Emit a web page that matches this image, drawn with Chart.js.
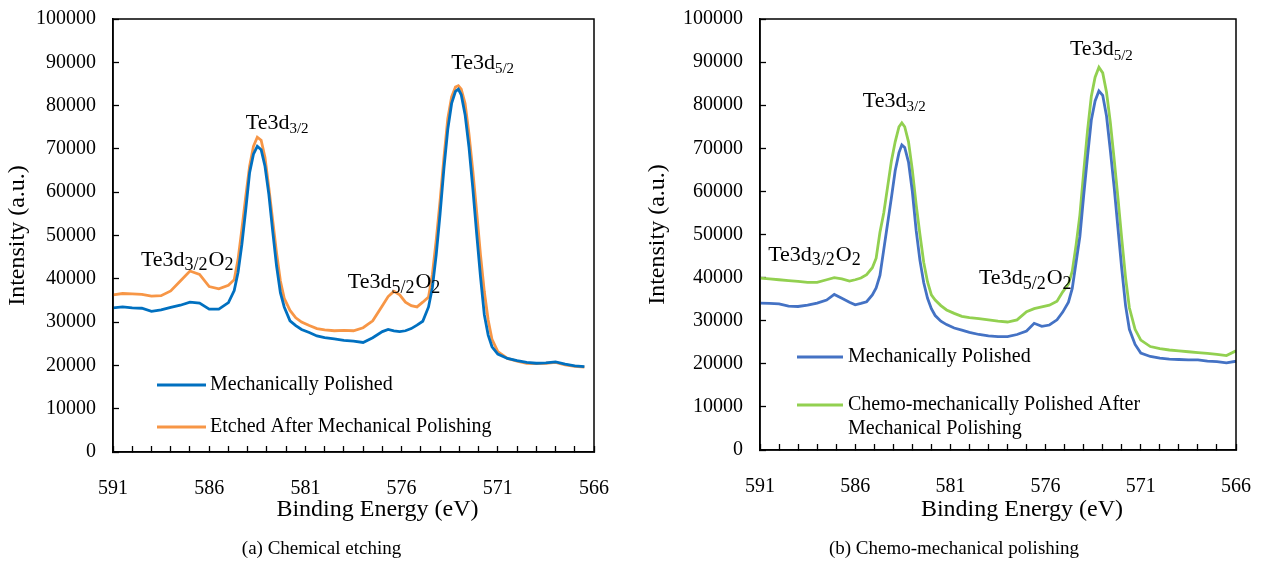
<!DOCTYPE html>
<html>
<head>
<meta charset="utf-8">
<script src="https://cdn.jsdelivr.net/npm/chart.js@4.4.1/dist/chart.umd.min.js"></script>
<style>
  html, body { margin: 0; padding: 0; background: #fff; }
  #wrap { position: relative; width: 1282px; height: 564px; }
  .panel { position: absolute; top: 0; }
</style>
</head>
<body>
<div id="wrap">
  <div class="panel" style="left:0"><canvas id="chart-a" width="640" height="564"></canvas></div>
  <div class="panel" style="left:640px"><canvas id="chart-b" width="642" height="564"></canvas></div>
</div>
<script>
// ---- (a) chemical etching ----
const energyA = [591.0, 590.5, 590.0, 589.5, 589.0, 588.5, 588.0, 587.5, 587.0, 586.5, 586.0, 585.5, 585.0, 584.7, 584.5, 584.3, 584.1, 583.9, 583.7, 583.5, 583.3, 583.1, 582.9, 582.7, 582.5, 582.3, 582.1, 581.8, 581.5, 581.2, 580.8, 580.4, 580.0, 579.5, 579.0, 578.5, 578.0, 577.5, 577.0, 576.7, 576.4, 576.1, 575.8, 575.5, 575.2, 574.9, 574.6, 574.4, 574.2, 574.0, 573.8, 573.6, 573.4, 573.2, 573.05, 572.9, 572.7, 572.5, 572.3, 572.1, 571.9, 571.7, 571.5, 571.3, 571.0, 570.5, 570.0, 569.5, 569.0, 568.5, 568.0, 567.5, 567.0, 566.5];
const polishedA = [33300, 33500, 33300, 33200, 32500, 32800, 33400, 33900, 34600, 34400, 33000, 33000, 34500, 37300, 41500, 48000, 56000, 64500, 68800, 70600, 69800, 66000, 59500, 51000, 43000, 36800, 33500, 30300, 29200, 28300, 27600, 26800, 26400, 26100, 25800, 25600, 25300, 26400, 27800, 28300, 28000, 27800, 28000, 28500, 29300, 30200, 33500, 38000, 45600, 55000, 65500, 74500, 80500, 83300, 83800, 82500, 77900, 70500, 61000, 50500, 40500, 31700, 27000, 24300, 22600, 21600, 21100, 20700, 20500, 20600, 20800, 20300, 19900, 19700];
const etchedA = [36300, 36600, 36500, 36400, 36000, 36100, 37200, 39500, 41800, 41000, 38200, 37700, 38500, 39800, 44500, 51500, 59000, 66000, 70600, 72700, 72000, 68000, 61000, 53500, 46000, 39500, 35500, 32700, 31000, 30000, 29200, 28500, 28200, 28000, 28100, 28000, 28700, 30300, 33800, 35900, 37100, 36300, 34600, 33800, 33500, 34600, 35800, 41000, 49000, 58000, 68000, 77000, 82000, 84300, 84600, 83800, 80500, 73500, 65000, 55500, 45500, 37000, 30500, 26000, 23200, 21600, 21000, 20500, 20400, 20500, 20700, 20100, 19800, 19600];

// ---- (b) chemo-mechanical polishing ----
const energyB = [591.0, 590.5, 590.0, 589.5, 589.0, 588.5, 588.0, 587.5, 587.1, 586.7, 586.3, 586.0, 585.7, 585.4, 585.1, 584.9, 584.7, 584.5, 584.3, 584.1, 583.9, 583.7, 583.55, 583.4, 583.2, 583.0, 582.8, 582.6, 582.4, 582.2, 582.0, 581.8, 581.5, 581.2, 580.8, 580.4, 580.0, 579.5, 579.0, 578.5, 578.0, 577.5, 577.0, 576.6, 576.2, 575.8, 575.4, 575.1, 574.8, 574.6, 574.4, 574.2, 574.0, 573.8, 573.6, 573.4, 573.2, 573.0, 572.8, 572.6, 572.4, 572.2, 572.0, 571.8, 571.6, 571.3, 571.0, 570.5, 570.0, 569.5, 569.0, 568.5, 568.0, 567.5, 567.0, 566.5, 566.0];
const polishedB = [34100, 34000, 33900, 33400, 33300, 33600, 34100, 34800, 36100, 35200, 34300, 33700, 34000, 34400, 36000, 37600, 40500, 46500, 52500, 58500, 64800, 69000, 70800, 70200, 66800, 60000, 51000, 44000, 38800, 35200, 32800, 31200, 29900, 29100, 28300, 27800, 27300, 26800, 26500, 26300, 26300, 26800, 27600, 29400, 28700, 29000, 30200, 32000, 34300, 37500, 43500, 49500, 59000, 68000, 76500, 81000, 83300, 82300, 77500, 69500, 61000, 51500, 42000, 33500, 28000, 24500, 22500, 21700, 21300, 21100, 21000, 20900, 20900, 20600, 20500, 20200, 20600];
const cmpB = [39900, 39700, 39500, 39300, 39100, 38900, 38900, 39500, 40000, 39700, 39200, 39500, 39900, 40700, 42300, 44500, 50500, 55000, 61000, 67000, 71500, 75000, 75900, 75000, 71500, 65000, 57000, 50000, 43500, 39000, 36000, 34800, 33500, 32500, 31700, 31000, 30700, 30500, 30200, 29900, 29700, 30200, 32100, 32800, 33200, 33600, 34500, 36700, 38500, 41500, 47500, 54500, 64500, 74000, 82000, 86500, 88800, 87500, 83000, 76000, 67500, 58500, 49000, 40000, 33000, 28000, 25500, 24000, 23500, 23200, 23000, 22800, 22600, 22400, 22200, 21900, 23000];

// axis ranges
const energyMin = 566, energyMax = 591;
const intensityMax = 100000, intensityStep = 10000;

// peak labels: [text, subscript, text, subscript ...] at [energy, intensity]
const peakTextA = [['Te3d', '3/2', 'O', '2'], ['Te3d', '3/2'], ['Te3d', '5/2', 'O', '2'], ['Te3d', '5/2']];
const peakAtA = [[589.55, 44400], [584.1, 76000], [578.8, 39300], [573.42, 89900]];
const peakTextB = [['Te3d', '3/2', 'O', '2'], ['Te3d', '3/2'], ['Te3d', '5/2', 'O', '2'], ['Te3d', '5/2']];
const peakAtB = [[590.57, 45300], [585.6, 80900], [579.5, 39900], [574.72, 92900]];

const SERIF = '"Liberation Serif", "Times New Roman", serif';

function pts(xs, ys) {
    return xs.map((x, i) => ({ x: x, y: ys[i] }));
}

function wrapText(ctx, text, maxWidth) {
    const words = text.split(' ');
    const lines = [];
    let line = '';
    words.forEach(w => {
        const test = line ? line + ' ' + w : w;
        if (line && ctx.measureText(test).width > maxWidth) {
            lines.push(line);
            line = w;
        } else {
            line = test;
        }
    });
    if (line) lines.push(line);
    return lines;
}

// frame, peak labels, legend, x title and caption
const decorations = {
    id: 'decorations',
    afterDraw(chart, args, opts) {
        const { ctx, chartArea: a, scales } = chart;
        ctx.save();
        ctx.strokeStyle = '#000';
        ctx.lineWidth = 1.5;
        ctx.strokeRect(a.left, a.top, a.right - a.left, a.bottom - a.top);

        ctx.fillStyle = '#000';
        ctx.textAlign = 'left';
        ctx.textBaseline = 'middle';
        opts.peakText.forEach((parts, k) => {
            let x = scales.x.getPixelForValue(opts.peakAt[k][0]);
            const y = scales.y.getPixelForValue(opts.peakAt[k][1]);
            const subSize = parts.length > 2 ? 18 : 15;
            parts.forEach((txt, j) => {
                const sub = j % 2 === 1;
                ctx.font = (sub ? subSize : 22) + 'px ' + SERIF;
                ctx.fillText(txt, x, sub ? y + 6 : y);
                x += ctx.measureText(txt).width + (sub && parts.length > 2 ? 1 : 0);
            });
        });

        const lg = opts.legend;
        chart.data.datasets.forEach((ds, i) => {
            const y = a.top + lg.rows[i];
            ctx.strokeStyle = ds.borderColor;
            ctx.lineWidth = 3;
            ctx.beginPath();
            ctx.moveTo(a.left + lg.x0, y);
            ctx.lineTo(a.left + lg.x1, y);
            ctx.stroke();
            ctx.font = '20px ' + SERIF;
            ctx.fillStyle = '#000';
            wrapText(ctx, ds.label, lg.maxWidth).forEach((ln, j) => {
                ctx.fillText(ln, a.left + lg.tx, y + j * lg.lineGap);
            });
        });

        ctx.textAlign = 'center';
        ctx.font = '24px ' + SERIF;
        ctx.fillText(opts.xTitle, (a.left + a.right) / 2 + opts.xTitleShift, opts.xTitleY);
        ctx.font = '19px ' + SERIF;
        ctx.fillText(opts.caption, (a.left + a.right) / 2 + opts.captionShift, opts.captionY);
        ctx.restore();
    }
};

function makeChart(id, datasets, deco, pad, yWidth) {
    return new Chart(document.getElementById(id), {
        type: 'line',
        data: { datasets: datasets },
        options: {
            responsive: false,
            animation: false,
            layout: { padding: pad },
            elements: {
                point: { radius: 0 },
                line: { borderWidth: 2.8, tension: 0 }
            },
            plugins: {
                legend: { display: false },
                tooltip: { enabled: false },
                decorations: deco
            },
            scales: {
                x: {
                    type: 'linear',
                    reverse: true,
                    min: energyMin,
                    max: energyMax,
                    afterFit: s => { s.height = 71; },
                    ticks: {
                        stepSize: 1,
                        autoSkip: false,
                        maxRotation: 0,
                        padding: 31,
                        color: '#000',
                        font: { family: SERIF, size: 20 },
                        callback: v => ((energyMax - Math.round(v)) % 5 === 0 ? Math.round(v) : '')
                    },
                    grid: { drawOnChartArea: false, tickLength: -6, color: '#000', tickWidth: 1.3 },
                    border: { color: '#000', width: 1.5 }
                },
                y: {
                    min: 0,
                    max: intensityMax,
                    afterFit: s => { s.width = yWidth; s.paddingTop = 0; s.paddingBottom = 0; },
                    ticks: {
                        stepSize: intensityStep,
                        padding: 23,
                        color: '#000',
                        font: { family: SERIF, size: 20 },
                        callback: v => String(v)
                    },
                    grid: { drawOnChartArea: false, tickLength: -6, color: '#000', tickWidth: 1.3 },
                    border: { color: '#000', width: 1.5 },
                    title: {
                        display: true,
                        text: 'Intensity (a.u.)',
                        color: '#000',
                        font: { family: SERIF, size: 24 },
                        padding: { top: 3, bottom: 0 }
                    }
                }
            }
        },
        plugins: [decorations]
    });
}

makeChart('chart-a', [
    { label: 'Mechanically Polished', data: pts(energyA, polishedA), borderColor: '#0070C0' },
    { label: 'Etched After Mechanical Polishing', data: pts(energyA, etchedA), borderColor: '#F79646' }
], {
    peakText: peakTextA,
    peakAt: peakAtA,
    legend: { x0: 44, x1: 93, tx: 97, rows: [366, 408], lineGap: 24, maxWidth: 400 },
    xTitle: 'Binding Energy (eV)', xTitleShift: 24, xTitleY: 510,
    caption: '(a) Chemical etching', captionShift: -32, captionY: 549
}, { left: 0, right: 28, top: 19, bottom: 41 }, 113);

makeChart('chart-b', [
    { label: 'Mechanically Polished', data: pts(energyB, polishedB), borderColor: '#4472C4' },
    { label: 'Chemo-mechanically Polished After Mechanical Polishing', data: pts(energyB, cmpB), borderColor: '#92D050' }
], {
    peakText: peakTextB,
    peakAt: peakAtB,
    legend: { x0: 37, x1: 83, tx: 88, rows: [338, 386], lineGap: 24, maxWidth: 300 },
    xTitle: 'Binding Energy (eV)', xTitleShift: 24, xTitleY: 510,
    caption: '(b) Chemo-mechanical polishing', captionShift: -44, captionY: 549
}, { left: 0, right: 25, top: 19, bottom: 43 }, 120);
</script>
</body>
</html>
